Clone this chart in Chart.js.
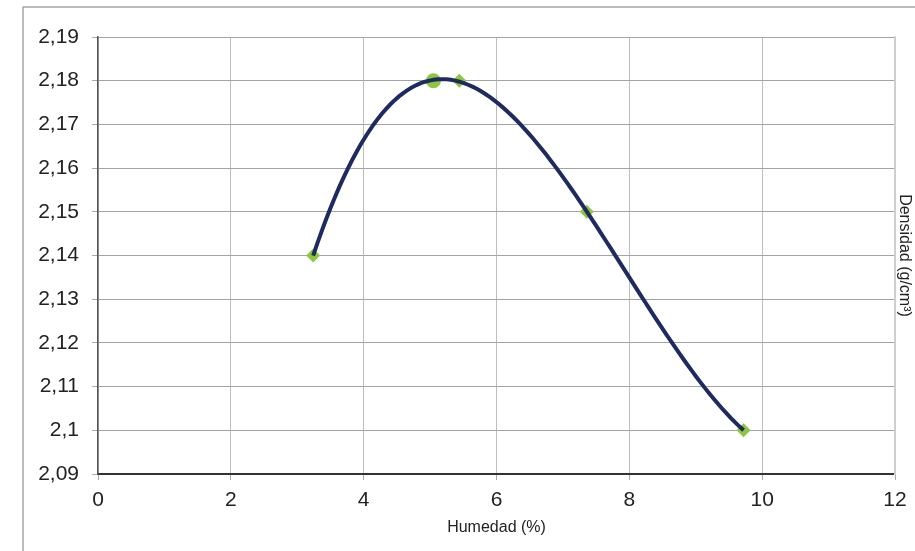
<!DOCTYPE html>
<html>
<head>
<meta charset="utf-8">
<style>
  html, body { margin: 0; padding: 0; background: #fff; }
</style>
<script src="https://cdn.jsdelivr.net/npm/chart.js@4"></script>
</head>
<body>
<canvas id="grafico" width="915" height="551"></canvas>
<script>
// datos del ensayo (humedad %, densidad g/cm3)
const humedad = [3.24, 5.05, 5.44, 7.36, 9.72];
const densidad = [2.14, 2.18, 2.18, 2.15, 2.10];

const xTicks = [0, 2, 4, 6, 8, 10, 12];
const xTickLabels = ['0', '2', '4', '6', '8', '10', '12'];
const yTicks = [2.09, 2.10, 2.11, 2.12, 2.13, 2.14, 2.15, 2.16, 2.17, 2.18, 2.19];
const yTickLabels = ['2,09', '2,1', '2,11', '2,12', '2,13', '2,14', '2,15', '2,16', '2,17', '2,18', '2,19'];

// linea de tendencia polinomica de grado 3 (minimos cuadrados, como la de Excel)
function ajustePolinomio(xs, ys, grado) {
    const n = grado + 1;
    const A = [];
    for (let i = 0; i < n; i++) {
        A.push([]);
        for (let j = 0; j < n; j++) {
            A[i].push(xs.reduce((s, x) => s + Math.pow(x, i + j), 0));
        }
        A[i].push(xs.reduce((s, x, k) => s + ys[k] * Math.pow(x, i), 0));
    }
    for (let c = 0; c < n; c++) {
        let p = c;
        for (let r = c + 1; r < n; r++) if (Math.abs(A[r][c]) > Math.abs(A[p][c])) p = r;
        [A[c], A[p]] = [A[p], A[c]];
        for (let r = 0; r < n; r++) {
            if (r === c) continue;
            const f = A[r][c] / A[c][c];
            for (let k = c; k <= n; k++) A[r][k] -= f * A[c][k];
        }
    }
    return A.map((fila, i) => fila[n] / fila[i]);
}

const coef = ajustePolinomio(humedad, densidad, 3);
const xMin = Math.min(...humedad);
const xMax = Math.max(...humedad);
const tendencia = [];
for (let i = 0; i <= 100; i++) {
    const x = xMin + (xMax - xMin) * i / 100;
    tendencia.push({ x: x, y: coef.reduce((s, c, k) => s + c * Math.pow(x, k), 0) });
}

const marco = {
    id: 'marco',
    beforeDraw(chart) {
        const c = chart.ctx;
        c.save();
        c.fillStyle = '#fff';
        c.fillRect(0, 0, chart.width, chart.height);
        c.strokeStyle = '#a6a6a6';
        c.lineWidth = 1.5;
        c.beginPath();
        c.moveTo(23, chart.height);
        c.lineTo(23, 7);
        c.lineTo(chart.width, 7);
        c.stroke();
        c.restore();
    }
};

const ctx = document.getElementById('grafico');

var myChart = new Chart(ctx, {
    type: 'scatter',
    data: {
        datasets: [
            {
                label: 'Tendencia',
                data: tendencia,
                showLine: true,
                borderColor: '#1f2a60',
                borderWidth: 4,
                pointRadius: 0,
                tension: 0
            },
            {
                label: 'Densidad',
                data: humedad.map((x, i) => ({ x: x, y: densidad[i] })),
                backgroundColor: '#8dc63f',
                borderColor: '#8dc63f',
                pointStyle: ['rectRot', 'circle', 'rectRot', 'rectRot', 'rectRot'],
                pointRadius: [7, 7.5, 7, 7, 7],
                borderWidth: 0
            }
        ]
    },
    options: {
        responsive: false,
        animation: false,
        layout: { padding: { top: 37, left: 0, right: 0, bottom: 0 } },
        plugins: {
            legend: { display: false },
            tooltip: { enabled: false }
        },
        scales: {
            x: {
                type: 'linear',
                min: 0,
                max: 12,
                afterBuildTicks: s => { s.ticks = xTicks.map(v => ({ value: v })); },
                afterFit: s => { s.height = 77; },
                ticks: {
                    callback: (v, i) => xTickLabels[i],
                    font: { family: 'Liberation Sans', size: 21 },
                    color: '#222',
                    padding: 8,
                    maxRotation: 0
                },
                grid: { color: '#bdbdbd', lineWidth: 1, tickLength: 6, tickColor: '#aaa' },
                border: { color: '#333', width: 2 },
                title: {
                    display: true,
                    text: 'Humedad (%)',
                    font: { family: 'Liberation Sans', size: 16 },
                    color: '#222',
                    padding: { top: 0, bottom: 14 }
                }
            },
            y: {
                position: 'left',
                min: 2.09,
                max: 2.19,
                afterBuildTicks: s => { s.ticks = yTicks.map(v => ({ value: v })); },
                afterFit: s => { s.width = 98; },
                ticks: {
                    callback: (v, i) => yTickLabels[i],
                    font: { family: 'Liberation Sans', size: 21 },
                    color: '#222',
                    padding: 13
                },
                grid: { color: '#a3a3a3', lineWidth: 1, tickLength: 6, tickColor: '#aaa' },
                border: { color: '#555', width: 1.5 }
            },
            y2: {
                position: 'right',
                min: 0,
                max: 1,
                afterFit: s => { s.width = 20; },
                ticks: { display: false },
                grid: { drawOnChartArea: false, drawTicks: false },
                border: { color: '#cfcfcf', width: 2 },
                title: {
                    display: true,
                    text: 'Densidad (g/cm³)',
                    font: { family: 'Liberation Sans', size: 16 },
                    color: '#222',
                    padding: 1
                }
            }
        }
    },
    plugins: [marco]
});
</script>
</body>
</html>
